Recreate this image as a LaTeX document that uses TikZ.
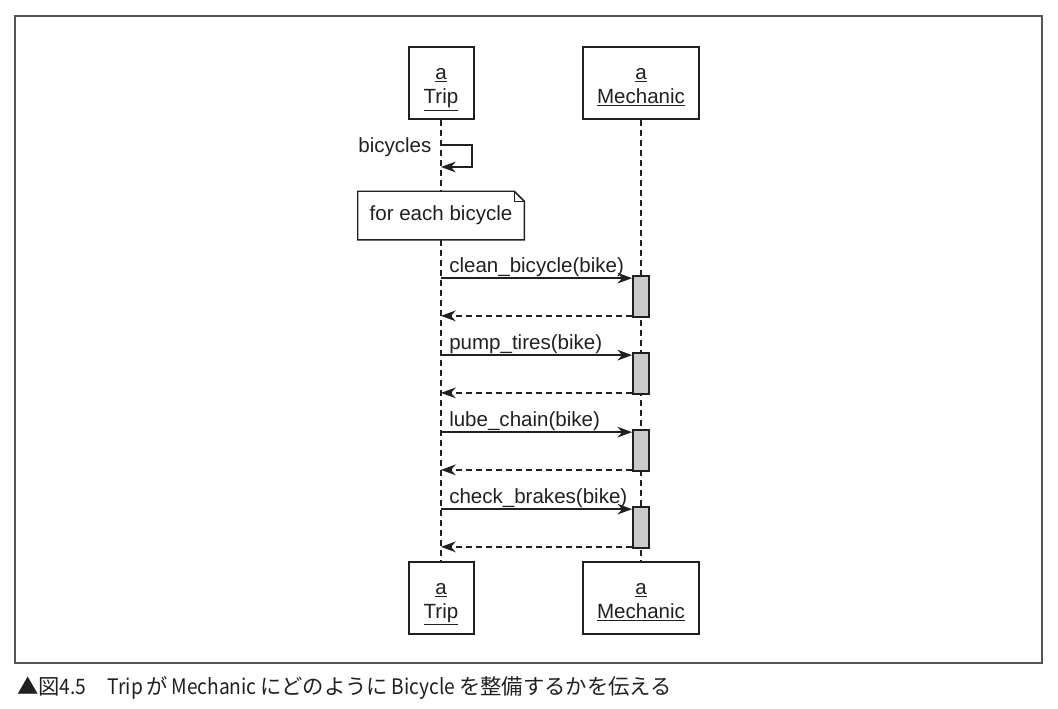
\documentclass[tikz,border=0pt]{standalone}
\usepackage{fontspec}
\setmainfont{Liberation Sans}
\newfontfamily\jpfont{Noto Sans CJK JP}
\usetikzlibrary{arrows.meta}

\definecolor{ink}{HTML}{231F20}
\definecolor{actgray}{HTML}{CBCBCB}
\definecolor{framegray}{HTML}{555555}

\newcommand{\objname}[1]{\raisebox{-3pt}[\height][\depth]{\begin{tabular}{@{}c@{}}\underline{a}\\[0.5pt]\underline{#1}\end{tabular}}}
\newcommand{\narrow}[1]{\scalebox{0.9}[1]{#1}}

\tikzset{
  lbl/.style={font=\fontsize{15.4}{17.5}\selectfont, text=ink, inner sep=1pt},
  obj/.style={draw=ink, line width=1.5pt, fill=white, minimum height=54pt, align=center, lbl},
  life/.style={draw=ink, line width=1.2pt, dash pattern=on 4.5pt off 3pt},
  call/.style={draw=ink, line width=1.4pt, -{Stealth[length=11pt,width=8pt,inset=3.5pt]}},
  ret/.style={call, dash pattern=on 4.5pt off 3pt},
  act/.style={draw=ink, line width=1.3pt, fill=actgray, minimum width=12pt, minimum height=30.75pt, inner sep=0pt},
  notebox/.style={lbl, minimum width=124.5pt, minimum height=36pt}
}

\begin{document}
\begin{tikzpicture}[x=0.75pt,y=-0.75pt]
  \useasboundingbox (0,0) rectangle (1058,708);
  \draw[framegray, line width=1.4pt] (15,16) rectangle (1042,663);

  % objects and lifelines
  \node[obj, minimum width=48.75pt] (trip) at (441,83) {\objname{Trip}};
  \node[obj, minimum width=87pt] (mech) at (641,83) {\objname{Mechanic}};
  \node[obj, minimum width=48.75pt] (tripend) at (441,597.5) {\objname{Trip}};
  \node[obj, minimum width=87pt] (mechend) at (641,597.5) {\objname{Mechanic}};
  \draw[life] (trip) -- (tripend);
  \draw[life] (mech) -- (mechend);

  % self call
  \coordinate (self1) at (441,145);
  \coordinate (self2) at (441,167);
  \node[lbl, anchor=east] (bicycles) at (433,147) {bicycles};
  \draw[call] (self1) -- ++(31,0) |- (self2);

  % note
  \node[notebox] (loop) at (441,215.5) {for each bicycle};
  \fill[white] (loop.north west) rectangle (loop.south east);
  \node[notebox] at (loop) {for each bicycle};
  \draw[ink, line width=1.1pt] (loop.north west) -- ([xshift=-7.5pt]loop.north east)
    -- ([yshift=-7.5pt]loop.north east) -- (loop.south east) -- (loop.south west) -- cycle;
  \draw[ink, line width=0.8pt] ([xshift=-7.5pt]loop.north east) |- ([yshift=-7.5pt]loop.north east);

  % messages
  \foreach \i/\msg in {1/clean\_bicycle(bike), 2/pump\_tires(bike), 3/lube\_chain(bike), 4/check\_brakes(bike)} {
    \node[act] (act\i) at (641,{296.5+77*(\i-1)}) {};
    \coordinate (c\i) at ([yshift=-2.25pt]act\i.north west);
    \coordinate (r\i) at ([yshift=1.5pt]act\i.south west);
    \draw[call] (trip |- c\i) -- node[pos=0, anchor=south west, lbl, inner sep=0pt, xshift=5.5pt] {\msg} (c\i);
    \draw[ret] (r\i) -- (trip |- r\i);
  }

  % caption
  \node[anchor=west, inner sep=0pt, text=ink, font=\jpfont\fontsize{16}{19}\selectfont] (caption) at (17,688)
    {▲図\narrow{4.5}\hspace{1em}\narrow{Trip}\,が\,\narrow{Mechanic}\,にどのように\,\narrow{Bicycle}\,を整備するかを伝える};
\end{tikzpicture}
\end{document}
